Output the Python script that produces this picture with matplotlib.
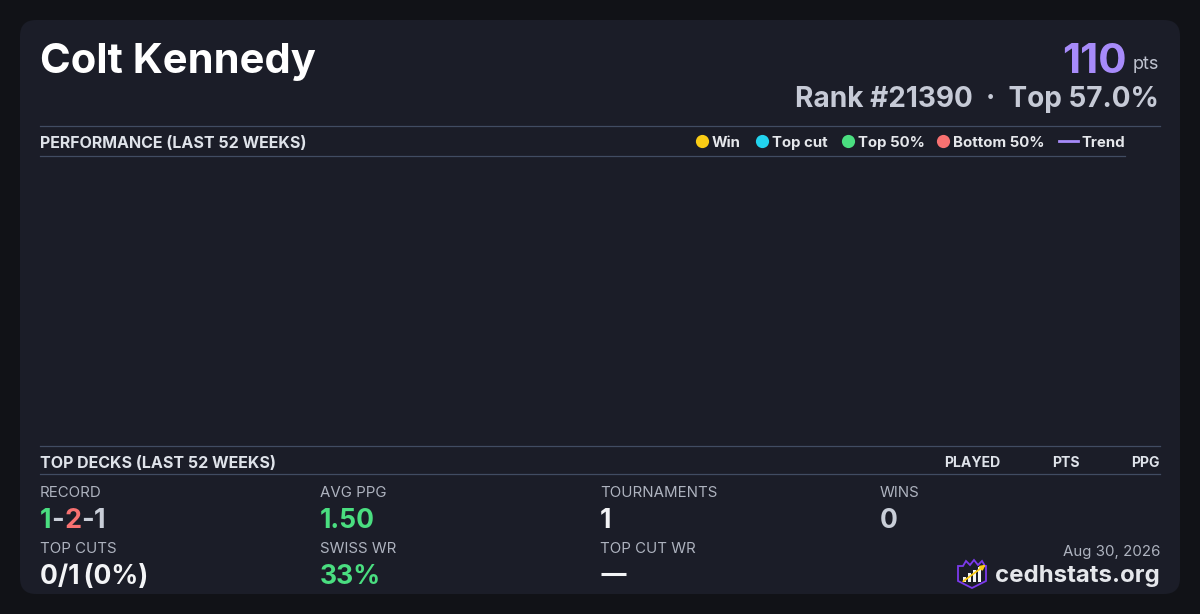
#python3
import numpy as np
import matplotlib
matplotlib.use('Agg')
import matplotlib.pyplot as plt
from matplotlib.patches import FancyBboxPatch, Polygon, Rectangle

plt.rcParams['font.family'] = ['Inter', 'DejaVu Sans']

player = 'Colt Kennedy'
points = 110
rank = 21390
top_pct = 57.0
section_perf = 'PERFORMANCE (LAST 52 WEEKS)'
section_decks = 'TOP DECKS (LAST 52 WEEKS)'
deck_cols = ['PLAYED', 'PTS', 'PPG']
legend_labels = ['Win', 'Top cut', 'Top 50%', 'Bottom 50%', 'Trend']
legend_colors = ['#facc15', '#22d3ee', '#4ade80', '#f87171', '#a78bfa']
perf_weeks = []       #no events plotted in the last 52 weeks
perf_placement = []
record = [1, 2, 1]   #wins - losses - draws
record_colors = ['#4ade80', '#f87171', '#c9ced8']
stat_labels = ['RECORD', 'AVG PPG', 'TOURNAMENTS', 'WINS',
               'TOP CUTS', 'SWISS WR', 'TOP CUT WR']
stat_values = ['1-2-1', '1.50', '1', '0', '0/1\u2009(0%)', '33%', '\u2014']
stat_colors = [None, '#4ade80', '#f3f4f6', '#c9ced8', '#f3f4f6', '#4ade80', '#f3f4f6']
date_str = 'Aug 30, 2026'
site = 'cedhstats.org'

#colors
BG = '#111217'
CARD = '#1b1d28'
RULE = '#414c62'
LABEL = '#aeb3bf'
HEAD = '#dfe3ea'

PX = 0.72  #pixel -> point at dpi 100

fig = plt.figure(figsize=(12, 6.14), dpi=100, facecolor=BG)
ax = fig.add_axes([0, 0, 1, 1])
ax.set_xlim(0, 1200)
ax.set_ylim(614, 0)
ax.axis('off')

#card
ax.add_patch(FancyBboxPatch((20, 20), 1160, 574, boxstyle='round,pad=0,rounding_size=16',
                            fc=CARD, ec='none'))

#header
ax.text(40, 73, player, fontsize=41.7*PX, fontweight='bold', color='#ffffff', va='baseline')
ax.text(1159, 69, 'pts', fontsize=18*PX, color='#c0c4d0', va='baseline', ha='right')
ax.text(1127, 73, str(points), fontsize=42*PX, fontweight='bold', color='#a78bfa',
        va='baseline', ha='right')
ax.text(1159, 107, 'Rank #%d  \u00b7  Top %.1f%%' % (rank, top_pct), fontsize=28*PX,
        fontweight='bold', color='#c6cad6', va='baseline', ha='right')

#section rules
ax.plot([40, 1160], [126, 126], color=RULE, lw=0.9)
ax.plot([40, 1125], [156, 156], color=RULE, lw=0.9)
ax.plot([40, 1160], [446, 446], color=RULE, lw=0.9)
ax.plot([40, 1160], [474, 474], color=RULE, lw=0.9)

ax.text(40, 147.5, section_perf, fontsize=16*PX, fontweight='bold', color=HEAD, va='baseline')
ax.text(40, 467.5, section_decks, fontsize=16*PX, fontweight='bold', color=HEAD, va='baseline')

#legend
leg_x = [702, 762, 848, 943, 1059]
for lx, lab, col in zip(leg_x, legend_labels, legend_colors):
    if lab == 'Trend':
        ax.plot([lx, lx + 19], [141, 141], color=col, lw=2)
        ax.text(lx + 22, 147, lab, fontsize=15*PX, fontweight='bold', color='#e5e7eb', va='baseline')
    else:
        ax.plot(lx, 141, 'o', ms=9.5, color=col, mec='none')
        ax.text(lx + 10, 147, lab, fontsize=15*PX, fontweight='bold', color='#e5e7eb', va='baseline')

#performance chart area (empty)
pax = fig.add_axes([40/1200, 1 - 446/614, 1085/1200, 290/614])
pax.set_facecolor('none')
pax.scatter(perf_weeks, perf_placement)
pax.set_xlim(0, 52)
pax.axis('off')

#deck table headers
for cx, lab in zip([1000, 1080, 1160], deck_cols):
    ax.text(cx, 467, lab, fontsize=14*PX, fontweight='bold', color=HEAD, va='baseline', ha='right')

#stats grid
col_x = [40, 320, 600, 880]
rows = [(497, 528), (553, 584)]
fig.canvas.draw()
renderer = fig.canvas.get_renderer()
for i, (lab, val, col) in enumerate(zip(stat_labels, stat_values, stat_colors)):
    x = col_x[i % 4]
    ly, vy = rows[i // 4]
    ax.text(x, ly, lab, fontsize=15*PX, color=LABEL, va='baseline')
    if lab == 'RECORD':
        #colored w-l-d pieces laid out one after the other
        cur = x
        pieces = []
        for k, r in enumerate(record):
            pieces.append((str(r), record_colors[k]))
            if k < len(record) - 1:
                pieces.append(('-', record_colors[2]))
        for s, c in pieces:
            t = ax.text(cur, vy, s, fontsize=27*PX, fontweight='bold', color=c, va='baseline')
            bb = t.get_window_extent(renderer)
            cur += bb.width
    elif val == '\u2014':
        ax.plot([x + 1, x + 26], [574, 574], color=col, lw=2.2, solid_capstyle='butt')
    else:
        ax.text(x, vy, val, fontsize=26.5*PX, fontweight='bold', color=col, va='baseline',
                family=['Inter', 'DejaVu Sans'])

#footer
ax.text(1160, 556, date_str, fontsize=15*PX, color=LABEL, va='baseline', ha='right')
ax.text(1160, 582, site, fontsize=24*PX, fontweight='bold', color='#e5e7eb', va='baseline', ha='right')

#logo
shield = Polygon([[958, 566], [963, 566], [966, 561], [970, 565], [974, 560], [978, 565],
                  [982, 561], [985, 566], [986, 566], [986, 581], [972, 588], [958, 581]],
                 closed=True, fc='none', ec='#7c3aed', lw=1.3)
ax.add_patch(shield)
for bx, bh in zip([963, 968, 973, 978], [5, 9, 12, 15]):
    ax.add_patch(Rectangle((bx, 582 - bh), 3, bh, fc='#f3f4f6', ec='none'))
ax.annotate('', xy=(988, 563), xytext=(961, 583),
            arrowprops=dict(arrowstyle='-|>', color='#facc15', lw=1.3, mutation_scale=7))

fig.savefig('out.png', dpi=100, facecolor=BG)
